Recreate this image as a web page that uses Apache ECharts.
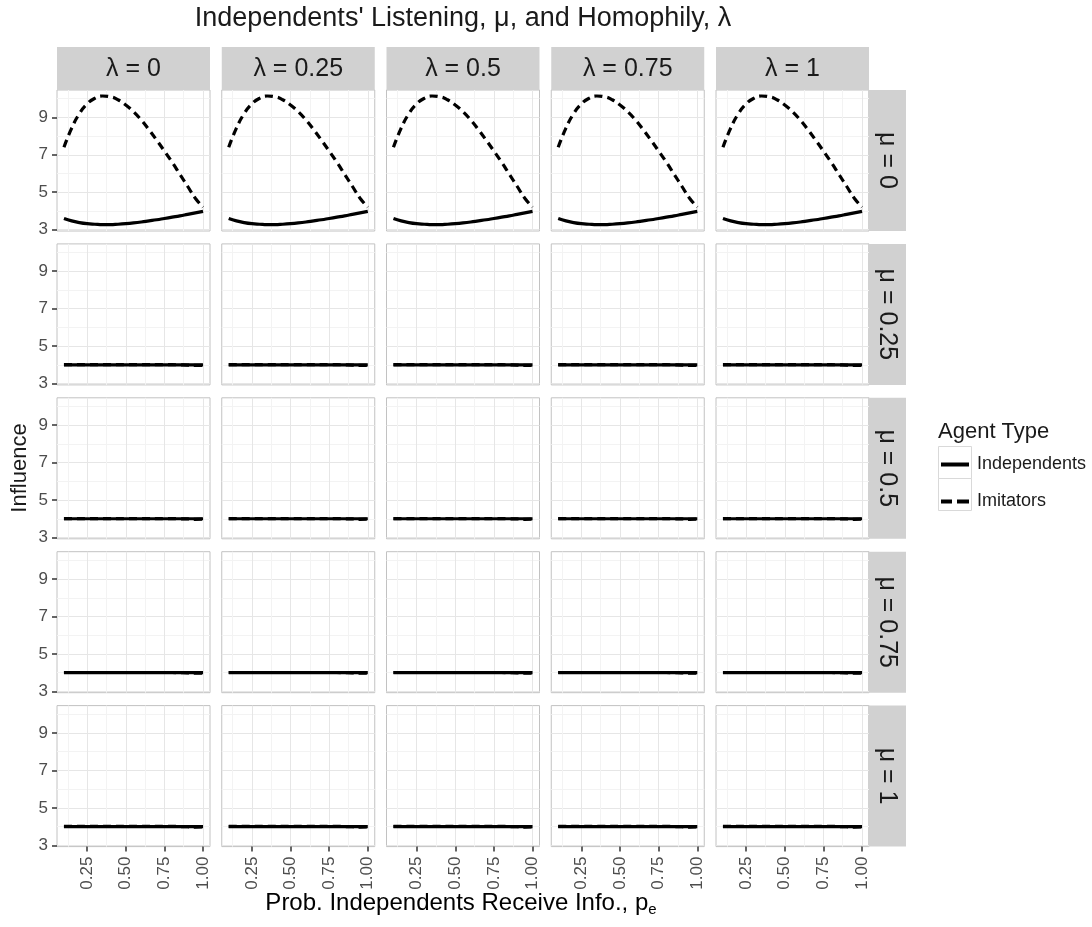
<!DOCTYPE html>
<html>
<head>
<meta charset="utf-8">
<script src="https://cdn.jsdelivr.net/npm/echarts@6/dist/echarts.min.js"></script>
<style>html,body{margin:0;padding:0;background:#fff;}#chart{width:1092px;height:927px;}</style>
</head>
<body>
<div id="chart"></div>
<script>
// ---- data ----
const pe = [0.10,0.15,0.20,0.25,0.30,0.35,0.40,0.45,0.50,0.55,0.60,0.65,0.70,0.75,0.80,0.85,0.90,0.95,1.00];
const lambdaLabels = ['λ = 0','λ = 0.25','λ = 0.5','λ = 0.75','λ = 1'];
const muLabels = ['μ = 0','μ = 0.25','μ = 0.5','μ = 0.75','μ = 1'];
const independentsMu0 = [3.60,3.47,3.38,3.32,3.29,3.27,3.27,3.29,3.32,3.36,3.41,3.47,3.53,3.60,3.67,3.74,3.82,3.90,3.98];
const imitatorsMu0    = [7.40,8.42,9.20,9.72,10.02,10.14,10.10,9.94,9.66,9.30,8.86,8.34,7.78,7.20,6.60,5.96,5.32,4.68,4.20];
const independentsMuPos = [4.00,4.00,4.00,4.00,4.00,4.00,4.00,4.00,4.00,4.00,4.00,4.00,4.00,4.00,4.00,4.00,4.00,4.00,4.00];
const imitatorsMuPos    = [4.01,4.01,4.01,4.01,4.01,4.01,4.01,4.01,4.01,4.01,4.01,4.01,4.01,4.01,4.01,4.00,3.99,3.97,3.98];
const xTicks = [0.25,0.50,0.75,1.00];
const xMinor = [0.125,0.375,0.625,0.875];
const yTicks = [3,5,7,9];
const yMinor = [4,6,8,10];

// ---- layout ----
const FONT = '"Liberation Sans", Arial, sans-serif';
const nR = 5, nC = 5;
const colLeft = c => 57 + c * 164.75;
const rowTop = r => 90 + r * 153.9;
const PW = 153, PH = 141;
const XMIN = 0.055, XMAX = 1.045, YMIN = 2.93, YMAX = 10.46;

const grids = [], xAxes = [], yAxes = [], series = [], graphics = [];
let gi = 0;
for (let r = 0; r < nR; r++) {
  for (let c = 0; c < nC; c++) {
    grids.push({left: colLeft(c), top: rowTop(r), width: PW, height: PH,
      show: true, borderColor: '#C2C2C2', borderWidth: 1, backgroundColor: '#fff', containLabel: false});
    const bottomRow = r === nR - 1, leftCol = c === 0;
    // minor axes (gridlines only)
    xAxes.push({type:'value', gridIndex: gi, position:'bottom', offset: 0, min: XMIN, max: XMAX, axisLine:{show:false},
      axisTick:{show:false, customValues: xMinor}, axisLabel:{show:false, customValues: xMinor},
      splitLine:{show:true, lineStyle:{color:'#F3F3F3', width:1}}});
    yAxes.push({type:'value', gridIndex: gi, position:'left', offset: 0, min: YMIN, max: YMAX, axisLine:{show:false},
      axisTick:{show:false, customValues: yMinor}, axisLabel:{show:false, customValues: yMinor},
      splitLine:{show:true, lineStyle:{color:'#F3F3F3', width:1}}});
    // major axes
    xAxes.push({type:'value', gridIndex: gi, position:'bottom', offset: 0, min: XMIN, max: XMAX, axisLine:{show:false, onZero:false},
      axisTick:{show: bottomRow, customValues: xTicks, length: 5, lineStyle:{color:'#333', width:1.5}},
      axisLabel:{show: bottomRow, customValues: xTicks, rotate: 90, margin: 10, fontSize: 17,
        color:'#4D4D4D', fontFamily: FONT, formatter: v => v.toFixed(2)},
      splitLine:{show:true, lineStyle:{color:'#E6E6E6', width:1}}});
    yAxes.push({type:'value', gridIndex: gi, position:'left', offset: 0, min: YMIN, max: YMAX, axisLine:{show:false, onZero:false},
      axisTick:{show: leftCol, customValues: yTicks, length: 5, lineStyle:{color:'#333', width:1.5}},
      axisLabel:{show: leftCol, customValues: yTicks, margin: 9, fontSize: 17,
        color:'#4D4D4D', fontFamily: FONT, formatter: v => String(v)},
      splitLine:{show:true, lineStyle:{color:'#E6E6E6', width:1}}});
    const ind = r === 0 ? independentsMu0 : independentsMuPos;
    const imi = r === 0 ? imitatorsMu0 : imitatorsMuPos;
    series.push({name:'Independents', type:'line', xAxisIndex: gi*2+1, yAxisIndex: gi*2+1,
      data: pe.map((x,i)=>[x, ind[i]]), symbol:'none', smooth: true, silent: true,
      lineStyle:{color:'#000', width:3.2, type:'solid'}, itemStyle:{color:'#000'}, z: 3});
    series.push({name:'Imitators', type:'line', xAxisIndex: gi*2+1, yAxisIndex: gi*2+1,
      data: pe.map((x,i)=>[x, imi[i]]), symbol:'none', smooth: true, silent: true,
      lineStyle:{color:'#000', width:3.2, type:[8,5]}, itemStyle:{color:'#000'}, z: 4});
    gi++;
  }
}

// strips
for (let c = 0; c < nC; c++) {
  graphics.push({type:'rect', shape:{x: colLeft(c), y: 47, width: PW, height: 43}, style:{fill:'#D1D1D1'}, silent:true});
  graphics.push({type:'text', x: colLeft(c) + PW/2, y: 69, silent:true,
    style:{text: lambdaLabels[c], font: '25px ' + FONT, fill:'#1A1A1A', align:'center', verticalAlign:'middle'}});
}
for (let r = 0; r < nR; r++) {
  graphics.push({type:'rect', shape:{x: 868, y: rowTop(r), width: 38, height: PH}, style:{fill:'#D1D1D1'}, silent:true});
  graphics.push({type:'text', x: 887, y: rowTop(r) + PH/2, rotation: -Math.PI/2, silent:true,
    style:{text: muLabels[r], font: '25px ' + FONT, fill:'#1A1A1A', align:'center', verticalAlign:'middle'}});
}
// titles
graphics.push({type:'text', x: 463, y: 19, silent:true,
  style:{text: "Independents' Listening, μ, and Homophily, λ", font: '27px ' + FONT, fill:'#1A1A1A', align:'center', verticalAlign:'middle'}});
graphics.push({type:'text', x: 20, y: 468, rotation: Math.PI/2, silent:true,
  style:{text: 'Influence', font: '22px ' + FONT, fill:'#1A1A1A', align:'center', verticalAlign:'middle'}});
graphics.push({type:'text', x: 461, y: 903, silent:true,
  style:{text: '{a|Prob. Independents Receive Info., p}{b|e}', align:'center', verticalAlign:'middle',
    rich:{a:{fontSize:24, fontFamily: FONT, color:'#1A1A1A'},
          b:{fontSize:15, fontFamily: FONT, color:'#1A1A1A', padding:[14,0,0,0]}}}});
// legend frame
graphics.push({type:'text', x: 938, y: 432, silent:true,
  style:{text: 'Agent Type', font: '22px ' + FONT, fill:'#1A1A1A', align:'left', verticalAlign:'middle'}});
graphics.push({type:'rect', shape:{x: 938.5, y: 446.5, width: 33, height: 32}, style:{fill:'#fff', stroke:'#D9D9D9', lineWidth:1}, silent:true, z: -1});
graphics.push({type:'rect', shape:{x: 938.5, y: 478.5, width: 33, height: 32}, style:{fill:'#fff', stroke:'#D9D9D9', lineWidth:1}, silent:true, z: -1});

const chart = echarts.init(document.getElementById('chart'), null, {renderer:'canvas'});
chart.setOption({
  animation: false,
  backgroundColor: '#fff',
  grid: grids, xAxis: xAxes, yAxis: yAxes, series: series,
  legend: {data:[{name:'Independents', icon:'rect'},
                 {name:'Imitators', icon:'path://M0,0h11v4h-11z M16,0h12v4h-12z'}],
    orient:'vertical', left: 941, top: 455.5,
    itemWidth: 28, itemHeight: 4, itemGap: 19, selectedMode: false, padding: 0,
    textStyle:{fontSize: 18, lineHeight: 14, color:'#1A1A1A', fontFamily: FONT, padding:[0,0,0,3]}},
  graphic: graphics
});
</script>
</body>
</html>
